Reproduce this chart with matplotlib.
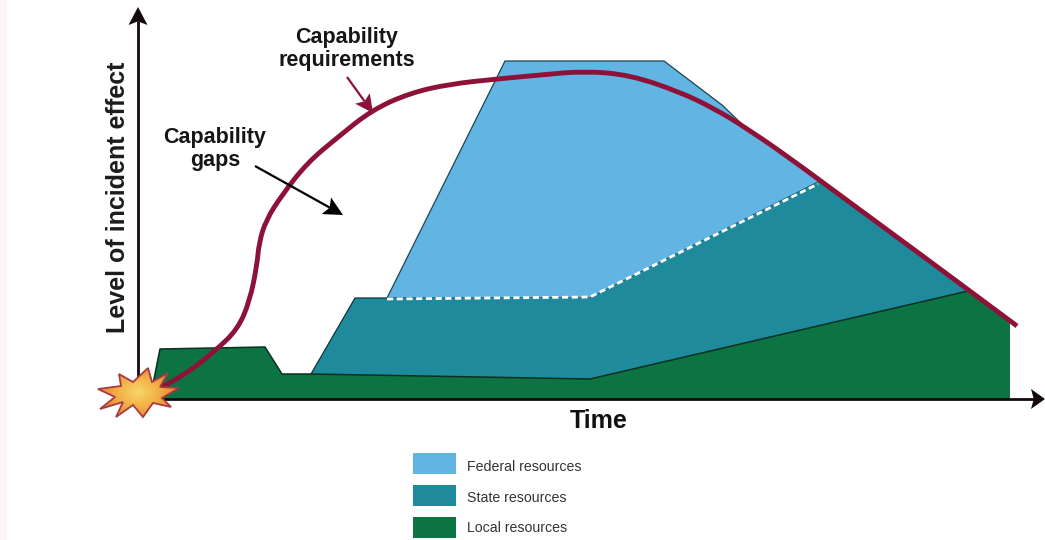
"""Incident effect over time: resources against capability requirements."""

import matplotlib

matplotlib.use("Agg")

import matplotlib.pyplot as plt
import numpy as np
from matplotlib.colors import LinearSegmentedColormap
from matplotlib.patches import PathPatch, Polygon, Rectangle
from matplotlib.path import Path

local_x = [150, 160, 265, 282, 311, 590, 968, 1010, 1010, 150]
local_y = [399, 349, 347, 374, 374, 379, 291, 321, 399, 399]

state_x = [311, 355, 387, 590, 820, 968, 590]
state_y = [374, 298, 298, 298, 181, 291, 379]

federal_x = [387, 505, 664, 722, 745, 820, 590]
federal_y = [298, 61, 61, 105, 127, 181, 298]

divider_x = [387, 590, 818]
divider_y = [299, 297, 184]

required_x = [160, 185, 215, 238, 250, 257, 259, 266, 282, 307, 338, 372, 410, 450,
              497, 540, 585, 630, 680, 713, 745, 807, 1017]
required_y = [388, 375, 351, 329, 300, 265, 243, 220, 195, 163, 137, 110, 93, 84,
              79, 75, 71, 75, 92, 108, 127, 170, 326]

star_x = [98, 121, 119, 133, 148, 152, 168, 160, 179, 162, 171, 153, 143, 133, 116, 123, 100, 115]
star_y = [389, 386, 374, 382, 368, 382, 373, 387, 388, 398, 407, 403, 417, 405, 417, 402, 409, 397]

legend_labels = ["Federal resources", "State resources", "Local resources"]

FEDERAL_COLOR = "#62b4e2"
STATE_COLOR = "#208a9d"
LOCAL_COLOR = "#0c7443"
LINE_COLOR = "#8e1238"
AXIS_COLOR = "#140a0e"
legend_colors = [FEDERAL_COLOR, STATE_COLOR, LOCAL_COLOR]

plt.rcParams["font.family"] = ["Liberation Sans", "DejaVu Sans"]


def draw_arrow(axes, start, end, color, width, head_length, head_width):
    """Line with a stealth head, its tip exactly at end."""
    start = np.asarray(start, dtype=float)
    end = np.asarray(end, dtype=float)
    direction = (end - start) / np.hypot(*(end - start))
    normal = np.array([-direction[1], direction[0]])
    notch = end - direction * head_length * 0.8
    base = end - direction * head_length
    head = [end, base + normal * head_width / 2, notch, base - normal * head_width / 2]
    axes.plot([start[0], notch[0]], [start[1], notch[1]], color=color, linewidth=width,
              solid_capstyle="butt", zorder=6)
    axes.add_patch(Polygon(head, closed=True, facecolor=color, edgecolor="none", zorder=6))


def draw_required_curve(axes):
    """Smooth stroke through the read points: quadratic pieces joined at midpoints."""
    points = np.column_stack([required_x, required_y]).astype(float)
    vertices = [points[0]]
    codes = [Path.MOVETO]
    for index in range(1, len(points) - 1):
        joint = (points[index] + points[index + 1]) / 2
        if index == len(points) - 2:
            joint = points[index + 1]
        vertices += [points[index], joint]
        codes += [Path.CURVE3, Path.CURVE3]
    axes.add_patch(PathPatch(Path(vertices, codes), facecolor="none", edgecolor=LINE_COLOR,
                             linewidth=3.5, capstyle="butt", zorder=5))


def draw_star(axes):
    star = Polygon(
        list(zip(star_x, star_y)),
        closed=True,
        facecolor="none",
        edgecolor="#a83a40",
        linewidth=1.3,
        zorder=8,
    )
    axes.add_patch(star)
    grid_x, grid_y = np.meshgrid(np.linspace(90, 190, 120), np.linspace(360, 425, 80))
    radius = np.hypot((grid_x - 138) / 36, (grid_y - 392) / 26)
    image = axes.imshow(
        np.clip(radius, 0, 1),
        extent=(90, 190, 425, 360),
        cmap=LinearSegmentedColormap.from_list("burst", ["#f6d76a", "#f3b54a", "#ea8b3c"]),
        aspect="auto",
        zorder=7,
    )
    image.set_clip_path(star)


def main():
    figure = plt.figure(figsize=(10.45, 5.40), dpi=100)
    axes = figure.add_axes([0, 0, 1, 1])
    axes.axis("off")

    # faint pink edge of the scanned page
    axes.add_patch(Rectangle((0, 0), 7, 540, facecolor="#fbf5f5", edgecolor="none", zorder=0))

    axes.fill(federal_x, federal_y, facecolor=FEDERAL_COLOR, edgecolor="#1d4450", linewidth=0.9, zorder=2)
    axes.fill(state_x, state_y, facecolor=STATE_COLOR, edgecolor="none", zorder=3)
    axes.fill(local_x, local_y, facecolor=LOCAL_COLOR, edgecolor="none", zorder=3)
    axes.plot(state_x[:3], state_y[:3], color="#10343c", linewidth=0.9, zorder=4)
    axes.plot(local_x[:7], local_y[:7], color="#0b2f22", linewidth=1.1, zorder=4)
    axes.plot(divider_x, divider_y, color="white", linewidth=2, linestyle=(0, (2.2, 1.3)), zorder=4)

    draw_arrow(axes, (138, 400), (138, 7), AXIS_COLOR, 2.0, 18, 19)
    draw_arrow(axes, (138, 399), (1045, 399), AXIS_COLOR, 2.0, 14, 20)

    draw_required_curve(axes)
    draw_star(axes)

    draw_arrow(axes, (347, 77), (373, 113), LINE_COLOR, 1.6, 18, 18)
    draw_arrow(axes, (255, 166), (343, 215), "black", 1.6, 19, 19)

    axes.text(118, 197, "Level of incident effect", rotation=90, ha="center", va="center",
              fontsize=18, fontweight="bold", color="#1c1c1c")
    axes.text(599, 421, "Time", ha="center", va="center", fontsize=18, fontweight="bold", color="#111111")
    axes.text(347, 49, "Capability\nrequirements", ha="center", va="center", fontsize=15.5,
              fontweight="bold", color="#161616", linespacing=1.17)
    axes.text(215, 149, "Capability\ngaps", ha="center", va="center", fontsize=15.5,
              fontweight="bold", color="#161616", linespacing=1.17)

    for index, (label, color) in enumerate(zip(legend_labels, legend_colors)):
        top = 453 + index * 32
        axes.add_patch(Rectangle((413, top), 43, 21, facecolor=color, edgecolor="none"))
        axes.text(467, 467 + index * 30.5, label, ha="left", va="center", fontsize=10.2, color="#333333")

    axes.set_xlim(0, 1045)
    axes.set_ylim(540, 0)
    figure.savefig("out.png", dpi=100, facecolor="white")
    plt.close(figure)


if __name__ == "__main__":
    main()
